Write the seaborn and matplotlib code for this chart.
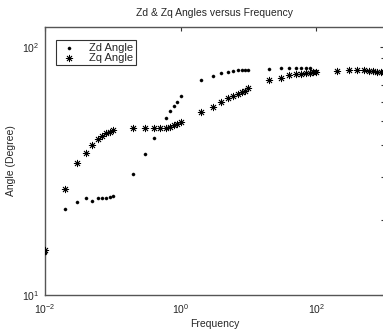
import matplotlib
matplotlib.use("Agg")
import matplotlib.pyplot as plt
import matplotlib.ticker as mticker
import seaborn as sns
import pandas as pd

freq = [0.01, 0.02, 0.03, 0.04, 0.05, 0.06, 0.07, 0.08, 0.09, 0.1,
        0.2, 0.3, 0.4, 0.5, 0.6, 0.7, 0.8, 0.9, 1,
        2, 3, 4, 5, 6, 7, 8, 9, 10,
        20, 30, 40, 50, 60, 70, 80, 90, 100,
        200, 300, 400, 500, 600, 700, 800, 900, 1000]

zd_angle = [14.7, 22.2, 23.7, 24.5, 23.9, 24.5, 24.5, 24.5, 24.8, 25.1,
            30.8, 37.1, 43.0, 47.2, 51.4, 55.2, 57.8, 60.0, 63.5,
            73.3, 76.5, 78.4, 79.2, 79.8, 80.5, 80.9, 80.9, 80.9,
            81.5, 82.0, 82.0, 82.0, 82.0, 82.0, 82.0, 80.0, 80.0,
            80.1, 80.7, 80.7, 80.7, 80.1, 79.9, 79.4, 79.2, 78.7]

zq_angle = [15.2, 26.6, 34.1, 37.3, 40.2, 42.3, 43.7, 44.8, 45.4, 46.0,
            47.0, 47.0, 47.0, 47.0, 47.0, 47.6, 48.3, 49.0, 49.9,
            54.4, 57.3, 59.8, 61.9, 63.1, 64.5, 65.5, 66.5, 68.0,
            73.1, 75.1, 76.8, 77.5, 77.7, 78.3, 78.5, 79.1, 79.2,
            80.1, 80.7, 80.7, 80.7, 80.1, 79.9, 79.4, 79.2, 78.7]

series_names = ["Zd Angle", "Zq Angle"]
x_ticks = [1e-2, 1e0, 1e2]
x_tick_labels = ["$10^{-2}$", "$10^{0}$", "$10^{2}$"]
y_ticks = [10, 100]
y_tick_labels = ["$10^{1}$", "$10^{2}$"]

sns.set_style("white")
plt.rcParams["font.family"] = ["Liberation Sans", "DejaVu Sans"]
plt.rcParams["mathtext.default"] = "regular"

fig = plt.figure(figsize=(3.83, 3.36), dpi=100)
ax = fig.add_axes([45 / 383, 41 / 336, 339 / 383, 268 / 336])

df = pd.DataFrame({"freq": freq, "zd": zd_angle, "zq": zq_angle})

sns.scatterplot(data=df, x="freq", y="zd", ax=ax, marker="o", s=5,
                color="black", edgecolor="black", linewidth=0.3,
                label=series_names[0], zorder=3)
sns.scatterplot(data=df, x="freq", y="zq", ax=ax, marker=(8, 2, 0), s=22,
                color="black", linewidth=0.6,
                label=series_names[1], zorder=3)

ax.set_xscale("log")
ax.set_yscale("log")
ax.set_xlim(1e-2, 1e3)
ax.set_ylim(10, 120)

ax.xaxis.set_major_locator(mticker.FixedLocator(x_ticks))
ax.xaxis.set_major_formatter(mticker.FixedFormatter(x_tick_labels))
ax.xaxis.set_minor_locator(mticker.NullLocator())
ax.yaxis.set_major_locator(mticker.FixedLocator(y_ticks))
ax.yaxis.set_major_formatter(mticker.FixedFormatter(y_tick_labels))
ax.yaxis.set_minor_locator(mticker.FixedLocator([20, 30, 40, 50, 60, 70, 80, 90]))
ax.yaxis.set_minor_formatter(mticker.NullFormatter())

ax.tick_params(which="both", direction="in", top=True, right=True,
               color="#333333", labelsize=7.5)
ax.tick_params(axis="x", pad=5)
ax.tick_params(axis="y", pad=4)
ax.tick_params(which="major", length=3, width=0.8)
ax.tick_params(which="minor", length=2, width=0.8)

for sp in ax.spines.values():
    sp.set_color("#555555")
    sp.set_linewidth(1.0)

ax.set_title("Zd & Zq Angles versus Frequency", fontsize=7.5, pad=8)
ax.set_xlabel("Frequency", fontsize=7.5, labelpad=2)
ax.set_ylabel("Angle (Degree)", fontsize=7.5, labelpad=4)

leg = ax.legend(loc="upper left", bbox_to_anchor=(0.032, 0.95), frameon=True,
                fancybox=False, fontsize=8, handletextpad=0.9,
                borderpad=0.2, labelspacing=0.0, handlelength=1.9,
                borderaxespad=0)
leg.get_frame().set_edgecolor("black")
leg.get_frame().set_linewidth(0.8)

fig.savefig("out.png", dpi=100)
